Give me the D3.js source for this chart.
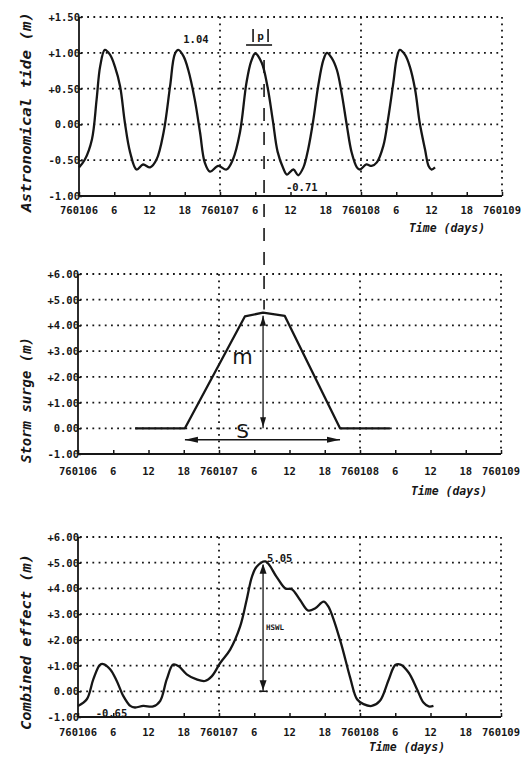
<!DOCTYPE html>
<html><head><meta charset="utf-8">
<script src="https://cdn.jsdelivr.net/npm/d3@7/dist/d3.min.js"></script>
<style>html,body{margin:0;padding:0;background:#fff;}svg{display:block}</style>
</head><body>
<script>
// ---------- data ----------
const xTickHours = [0, 6, 12, 18, 24, 30, 36, 42, 48, 54, 60, 66, 72];
const xTickLabels = ["760106", "6", "12", "18", "760107", "6", "12", "18", "760108", "6", "12", "18", "760109"];
const dayBoundaryHours = [24, 48, 72];

const tideTicks = [-1, -0.5, 0, 0.5, 1, 1.5];
const tideTickLabels = ["-1.00", "-0.50", "0.00", "+0.50", "+1.00", "+1.50"];
const meterTicks = [-1, 0, 1, 2, 3, 4, 5, 6];
const meterTickLabels = ["-1.00", "0.00", "+1.00", "+2.00", "+3.00", "+4.00", "+5.00", "+6.00"];

const panelTitles = ["Astronomical tide  (m)", "Storm surge  (m)", "Combined effect  (m)"];
const axisTitle = "Time (days)";

const tideHours = [0, 1.0, 2.2, 3.0, 3.6, 4.4, 5.3, 6.1, 7.0, 7.8, 8.7, 9.8, 10.9, 12.1, 13.2, 14.4, 15.5, 16.3, 16.9, 17.8, 18.6, 19.7, 20.6, 21.4, 22.3, 23.7, 25.1, 26.2, 27.4, 28.5, 29.3, 30.0, 31.1, 32.1, 33.0, 33.8, 34.8, 35.4, 36.5, 37.3, 38.2, 39.0, 39.9, 40.7, 41.6, 42.2, 43.0, 43.9, 44.7, 45.6, 46.4, 47.3, 47.8, 48.9, 49.8, 50.7, 51.8, 52.6, 53.5, 54.1, 54.6, 55.5, 56.3, 57.2, 58.0, 58.9, 59.5, 60.0, 60.6];
const tideValues = [-0.60, -0.49, -0.21, 0.35, 0.81, 1.04, 0.97, 0.81, 0.53, 0.03, -0.39, -0.63, -0.56, -0.60, -0.49, -0.11, 0.53, 0.98, 1.04, 0.95, 0.76, 0.35, -0.11, -0.53, -0.66, -0.58, -0.63, -0.49, -0.11, 0.58, 0.88, 0.99, 0.86, 0.52, 0.05, -0.38, -0.62, -0.70, -0.63, -0.71, -0.60, -0.35, 0.07, 0.53, 0.90, 1.00, 0.93, 0.76, 0.44, -0.02, -0.39, -0.60, -0.63, -0.56, -0.58, -0.53, -0.30, 0.07, 0.58, 0.93, 1.04, 0.97, 0.81, 0.49, 0.02, -0.35, -0.58, -0.63, -0.60];

const surgeHours = [9.7, 18.2, 28.4, 31.5, 35.2, 44.6, 53.1];
const surgeValues = [0, 0, 4.35, 4.50, 4.37, 0, 0];

const combinedHours = [0, 1.5, 2.6, 3.7, 4.3, 5.5, 6.6, 7.7, 8.9, 9.7, 11.1, 12.8, 14.0, 15.1, 16.2, 17.1, 18.5, 20.2, 21.6, 22.8, 24.2, 25.9, 27.6, 28.7, 29.6, 30.4, 31.9, 33.8, 35.3, 36.4, 37.8, 39.2, 40.4, 41.8, 42.6, 44.6, 46.3, 47.5, 48.6, 50.0, 51.4, 52.9, 54.0, 54.9, 56.3, 57.7, 58.8, 59.7, 60.5];
const combinedValues = [-0.57, -0.31, 0.46, 1.02, 1.06, 0.85, 0.40, -0.18, -0.57, -0.63, -0.57, -0.59, -0.37, 0.46, 1.04, 0.98, 0.66, 0.46, 0.40, 0.59, 1.10, 1.62, 2.52, 3.55, 4.45, 4.84, 5.05, 4.45, 4.00, 3.97, 3.55, 3.14, 3.23, 3.49, 3.30, 2.00, 0.55, -0.31, -0.50, -0.57, -0.37, 0.46, 1.02, 1.04, 0.72, 0.08, -0.44, -0.59, -0.57];

const peakHour = 31.5;

// ---------- drawing ----------
const W = 529, H = 763;
const INK = "#161616";
const MONO = "'DejaVu Sans Mono', 'Liberation Mono', monospace";
const svg = d3.select("body").append("svg").attr("width", W).attr("height", H)
  .style("background", "#fff");

const panels = [
  {left: 79, right: 502, top: 17, bottom: 196, domain: [-1, 1.5], ticks: tideTicks, labels: tideTickLabels,
   hours: tideHours, values: tideValues, curve: d3.curveCatmullRom.alpha(0.5),
   title: panelTitles[0], titleY: 112, titleLen: 200, timeX: 447, timeY: 232, labelDy: 18},
  {left: 78, right: 501, top: 274, bottom: 454, domain: [-1, 6], ticks: meterTicks, labels: meterTickLabels,
   hours: surgeHours, values: surgeValues, curve: d3.curveLinear,
   title: panelTitles[1], titleY: 400, titleLen: 126, timeX: 449, timeY: 495, labelDy: 21},
  {left: 78, right: 501, top: 537, bottom: 717, domain: [-1, 6], ticks: meterTicks, labels: meterTickLabels,
   hours: combinedHours, values: combinedValues, curve: d3.curveCatmullRom.alpha(0.5),
   title: panelTitles[2], titleY: 642, titleLen: 176, timeX: 407, timeY: 751, labelDy: 19}
];

panels.forEach(p => {
  p.x = d3.scaleLinear().domain([0, 72]).range([p.left, p.right]);
  p.y = d3.scaleLinear().domain(p.domain).range([p.bottom, p.top]);
  const g = svg.append("g");

  // horizontal dotted grid lines
  g.selectAll("line.hg").data(p.ticks.filter(v => v !== p.domain[0])).join("line")
    .attr("x1", p.left + 2).attr("x2", p.right)
    .attr("y1", d => p.y(d)).attr("y2", d => p.y(d))
    .attr("stroke", INK).attr("stroke-width", 1.8).attr("stroke-dasharray", "1.8,4.4");
  // vertical dotted lines at day boundaries
  g.selectAll("line.vg").data(dayBoundaryHours).join("line")
    .attr("x1", d => p.x(d)).attr("x2", d => p.x(d))
    .attr("y1", p.top).attr("y2", p.bottom)
    .attr("stroke", INK).attr("stroke-width", 1.8).attr("stroke-dasharray", "1.8,4.6");

  // axes (left + bottom) using d3 axes
  const xAxis = d3.axisBottom(p.x).tickValues(xTickHours).tickSize(-4).tickFormat("");
  g.append("g").attr("transform", `translate(0,${p.bottom})`).call(xAxis)
    .call(a => a.select(".domain").attr("stroke", INK).attr("stroke-width", 1.8).attr("d", `M${p.left},0H${p.right}`))
    .call(a => a.selectAll(".tick line").attr("stroke", INK).attr("stroke-width", 1.5));
  const yAxis = d3.axisLeft(p.y).tickValues(p.ticks).tickSize(-3).tickFormat("");
  g.append("g").attr("transform", `translate(${p.left},0)`).call(yAxis)
    .call(a => a.select(".domain").attr("stroke", INK).attr("stroke-width", 1.8).attr("d", `M0,${p.top}V${p.bottom}`))
    .call(a => a.selectAll(".tick line").attr("stroke", INK).attr("stroke-width", 1.5));

  // tick labels
  g.selectAll("text.yl").data(p.ticks).join("text")
    .attr("x", p.left + 1).attr("y", d => p.y(d) + 4)
    .attr("text-anchor", "end").attr("font-family", MONO).attr("font-weight", "bold")
    .attr("font-size", 10.5).attr("fill", INK)
    .text((d, i) => p.labels[i]);
  g.selectAll("text.xl").data(xTickHours).join("text")
    .attr("x", d => p.x(d)).attr("y", p.bottom + p.labelDy)
    .attr("text-anchor", "middle").attr("font-family", MONO).attr("font-weight", "bold")
    .attr("font-size", 10.5).attr("fill", INK)
    .text((d, i) => xTickLabels[i]);

  // axis titles
  g.append("text")
    .attr("transform", `translate(31,${p.titleY}) rotate(-90)`)
    .attr("text-anchor", "middle").attr("font-family", MONO).attr("font-style", "italic")
    .attr("font-weight", "bold").attr("font-size", 13.5).attr("fill", INK)
    .attr("textLength", p.titleLen).attr("lengthAdjust", "spacingAndGlyphs")
    .text(p.title);
  g.append("text")
    .attr("x", p.timeX).attr("y", p.timeY)
    .attr("text-anchor", "middle").attr("font-family", MONO).attr("font-style", "italic")
    .attr("font-weight", "bold").attr("font-size", 11.5).attr("fill", INK)
    .text(axisTitle);

  // data curve
  const line = d3.line().x(d => p.x(d[0])).y(d => p.y(d[1])).curve(p.curve);
  g.append("path").datum(d3.zip(p.hours, p.values))
    .attr("d", line).attr("fill", "none").attr("stroke", INK)
    .attr("stroke-width", 2.3).attr("stroke-linejoin", "round");
});

// ---------- annotations ----------
const [pt, ps, pc] = panels;
const ann = svg.append("g").attr("fill", INK).attr("font-family", MONO).attr("font-weight", "bold");

function label(x, y, txt, size, anchor) {
  ann.append("text").attr("x", x).attr("y", y).attr("font-size", size)
    .attr("text-anchor", anchor || "start").text(txt);
}
function seg(x1, y1, x2, y2, w, dash) {
  const l = svg.append("line").attr("x1", x1).attr("y1", y1).attr("x2", x2).attr("y2", y2)
    .attr("stroke", INK).attr("stroke-width", w || 1.5);
  if (dash) l.attr("stroke-dasharray", dash);
  return l;
}
function head(x, y, dir, len, wid) {
  // dir: 'up','down','left','right' ; tip at (x,y)
  let pts;
  if (dir === "up") pts = [[x, y], [x - wid, y + len], [x + wid, y + len]];
  if (dir === "down") pts = [[x, y], [x - wid, y - len], [x + wid, y - len]];
  if (dir === "left") pts = [[x, y], [x + len, y - wid], [x + len, y + wid]];
  if (dir === "right") pts = [[x, y], [x - len, y - wid], [x - len, y + wid]];
  svg.append("path").attr("d", "M" + pts.map(q => q.join(",")).join("L") + "Z").attr("fill", INK);
}

// top panel labels
label(pt.x(16.9) + 5, pt.y(1.04) - 7, "1.04", 10.5);
label(pt.x(35.4) - 1, pt.y(-0.71) + 16, "-0.71", 10.5);
// |p| bracket
const bx = pt.x(peakHour);
seg(bx - 11, 29, bx - 11, 42, 1.6);
seg(bx + 4, 29, bx + 4, 42, 1.6);
label(bx - 3.5, 40, "p", 11, "middle");
seg(bx - 18, 45, bx + 8, 45, 1.6);

// dashed connector
const px = pt.x(peakHour);
seg(px, pt.y(0.9), px, ps.y(4.62), 1.6, "13,11");

// surge: m arrow
const sx = ps.x(peakHour);
seg(sx, ps.y(4.45) + 2, sx, ps.y(0), 1.3);
head(sx, ps.y(4.45) + 2, "up", 10, 3);
head(sx, ps.y(0) - 1, "down", 10, 3);
svg.append("text").attr("x", ps.x(28.0)).attr("y", ps.y(2.5)).attr("font-family", "'DejaVu Sans', sans-serif")
  .attr("font-size", 21).attr("fill", INK).attr("text-anchor", "middle").text("m");
// S arrow
const sy = ps.y(-0.45);
seg(ps.x(18.2), sy, ps.x(44.6), sy, 1.5);
head(ps.x(18.2), sy, "left", 13, 3);
head(ps.x(44.6), sy, "right", 13, 3);
svg.append("text").attr("x", ps.x(28.0)).attr("y", sy - 2).attr("font-family", "'DejaVu Sans', sans-serif")
  .attr("font-size", 20).attr("fill", INK).attr("text-anchor", "middle").text("S");

// combined: HSWL arrow
const cx = pc.x(peakHour);
seg(cx, pc.y(5.0) + 2, cx, pc.y(0), 1.3);
head(cx, pc.y(5.0) + 1, "up", 10, 3.5);
head(cx, pc.y(0) - 1, "down", 10, 3.5);
seg(cx - 4, pc.y(0), cx + 4, pc.y(0), 1.5);
label(cx + 4, pc.y(5.05) + 1, "5.05", 10.5);
label(cx + 3, pc.y(2.4), "HSWL", 7.5);
label(pc.x(3.0), pc.y(-0.65) + 9, "-0.65", 10.5);
</script>
</body></html>
